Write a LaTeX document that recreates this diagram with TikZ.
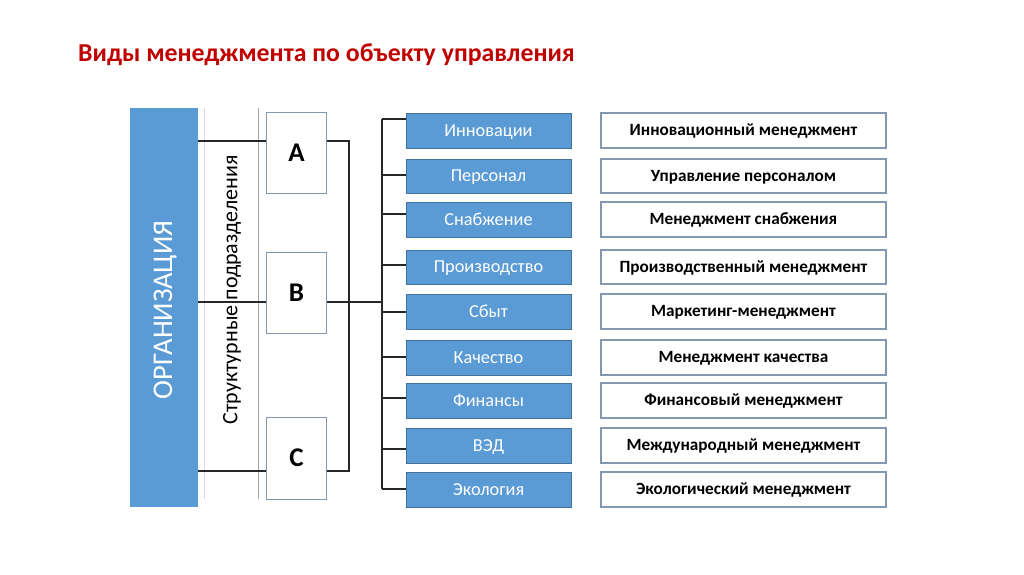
\documentclass[tikz,border=0pt]{standalone}
\usepackage{fontspec}
\setmainfont{Carlito}
\definecolor{bluefill}{HTML}{5B9BD5}
\definecolor{blueedge}{HTML}{41719C}
\definecolor{grayedge}{HTML}{8497B0}
\definecolor{titlered}{HTML}{C00000}
\definecolor{lightgray}{HTML}{D9D9D9}
\definecolor{midgray}{HTML}{A6A6A6}
\begin{document}
\begin{tikzpicture}[x=1pt,y=-1pt,
  bluebox/.style={draw=blueedge,line width=1pt,fill=bluefill,text=white,minimum width=165pt,minimum height=35pt,inner sep=0pt,text height=11.3pt,text depth=0pt,font=\fontsize{18.3}{18}\selectfont},
  whitebox/.style={draw=grayedge,line width=1.5pt,fill=white,minimum width=285pt,minimum height=35pt,inner sep=0pt,text height=10.8pt,text depth=0pt,font=\bfseries\fontsize{17.2}{17}\selectfont},
  letterbox/.style={draw=grayedge,line width=1pt,fill=white,minimum width=60pt,inner sep=0pt,font=\bfseries\fontsize{27}{27}\selectfont},
  conn/.style={line width=1.6pt,black!85}]
\useasboundingbox (0,0) rectangle (1024,574);
\node[anchor=west,inner sep=0pt,text=titlered,font=\bfseries\fontsize{25.8}{26}\selectfont] (title) at (78,55) {Виды менеджмента по объекту управления};
% organisation column
\node[fill=bluefill,minimum width=68pt,minimum height=399pt,inner sep=0pt] (org) at (164,307.5) {};
\node[rotate=90,text=white,font=\fontsize{28.5}{28}\selectfont] (orgtext) at (165,310) {ОРГАНИЗАЦИЯ};
% structural column
\node[fill=white,minimum width=53pt,minimum height=390pt,inner sep=0pt] (struct) at (231.5,303.5) {};
\draw[lightgray,line width=0.8pt] (struct.north west) -- (struct.south west);
\draw[midgray,line width=1pt] (struct.north east) -- (struct.south east);
% connectors org -> letter boxes (behind boxes)
\coordinate (yA) at (0,141);
\coordinate (yB) at (0,302);
\coordinate (yC) at (0,471);
\node[letterbox,minimum height=81pt] (A) at (296.5,152.5) {А};
\node[letterbox,minimum height=81pt] (B) at (296.5,292.5) {В};
\node[letterbox,minimum height=82pt] (C) at (296.5,458) {С};
\draw[conn] (org.east |- yA) -- (A.west |- yA);
\draw[conn] (org.east |- yB) -- (B.west |- yB);
\draw[conn] (org.east |- yC) -- (C.west |- yC);
\node[rotate=90,font=\fontsize{22}{22}\selectfont] (structtext) at (232,290) {Структурные подразделения};
% right bus
\coordinate (busA) at (349,141);
\coordinate (busC) at (349,471);
\coordinate (mainB) at (382,302);
\coordinate (mainTop) at (382,119);
\coordinate (mainBot) at (382,489);
\draw[conn] (A.east |- yA) -- (busA) -- (busC) -- (C.east |- yC);
\draw[conn] (B.east |- yB) -- (mainB);
\draw[conn] (mainTop) -- (mainBot);
% rows
\foreach \i/\top/\bot/\cy/\lab/\res in {
  1/113/148/119/Инновации/Инновационный менеджмент,
  2/159/193/175/Персонал/Управление персоналом,
  3/202/237/214/Снабжение/Менеджмент снабжения,
  4/250/284/265/Производство/Производственный менеджмент,
  5/294/329/312/Сбыт/Маркетинг-менеджмент,
  6/340/375/357/Качество/Менеджмент качества,
  7/383/418/398/Финансы/Финансовый менеджмент,
  8/428/463/449/ВЭД/Международный менеджмент,
  9/472/507/489/Экология/Экологический менеджмент}{
  \node[bluebox,minimum height={\bot-\top}] (b\i) at (488.5,{(\top+\bot)/2}) {\lab};
  \node[whitebox,minimum height={\bot-\top}] (w\i) at (743.5,{(\top+\bot)/2}) {\res};
  \coordinate (c\i) at (382,\cy);
  \draw[conn] (c\i) -- (b\i.west |- c\i);
}
\end{tikzpicture}
\end{document}
